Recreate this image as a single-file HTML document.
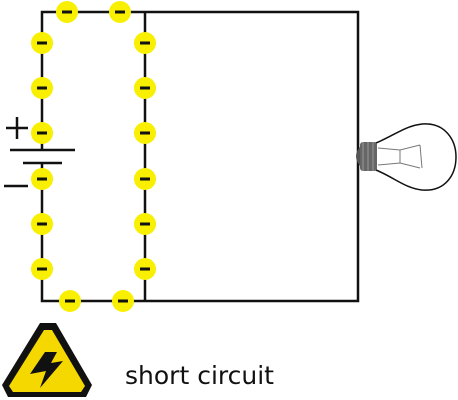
<!DOCTYPE html>
<html><head><meta charset="utf-8"><style>
html,body{margin:0;padding:0;background:#fff;}
svg{display:block;}
</style></head><body>
<svg width="458" height="400" viewBox="0 0 458 400" xmlns="http://www.w3.org/2000/svg">
  <g stroke="#111" stroke-width="2.5" fill="none">
    <path d="M42 150 V12 H358 V301 H42 V163"/>
    <line x1="145" y1="12" x2="145" y2="301"/>
  </g>
  <g stroke="#111" stroke-width="2.5">
    <line x1="10" y1="150" x2="75" y2="150"/>
    <line x1="23" y1="163" x2="62" y2="163"/>
    <line x1="6" y1="128" x2="28" y2="128"/>
    <line x1="17" y1="117" x2="17" y2="139"/>
    <line x1="4" y1="186" x2="28" y2="186"/>
  </g>
  <g id="electrons"></g>
  <g>
    <path d="M376 143 C395 135 405 126 422 124 C445 122 456 140 456 157 C456 175 445 192 422 190 C405 188 395 178 376 170 Z" fill="#fff" stroke="#111" stroke-width="1.5"/>
    <rect x="360" y="142" width="17" height="29" rx="3" fill="#666"/>
    <g stroke="#999" stroke-width="1">
      <line x1="363" y1="142" x2="363" y2="171"/><line x1="368" y1="142" x2="368" y2="171"/><line x1="373" y1="142" x2="373" y2="171"/>
    </g>
    <path d="M360 147 Q352 156 360 166 Z" fill="#555"/>
    <path d="M378 148 L400 150 L420 145 M378 165 L400 163 L420 168 M400 150 L400 163 M420 145 L422 168" stroke="#777" stroke-width="1" fill="none"/>
  </g>
  <g>
    <path d="M40 323 H56 L92 385 L86 397 H8 L2 385 Z" fill="#111"/>
    <path d="M44 330 H52 L85 386 L81 392 H13 L9 386 Z" fill="#f5d800"/>
    <path d="M45 352 L57 352 L51 363 L63 361 L40 388 L46 371 L30 374 Z" fill="#111"/>
  </g>
  <text x="125" y="384" font-family="'DejaVu Sans', 'Liberation Sans', sans-serif" font-size="25" fill="#111">short circuit</text>
</svg>
<script>
const ex = [67,120,42,42,42,42,42,42,145,145,145,145,145,145,70,123];
const ey = [12,12,43,88,133,179,224,269,43,88,133,179,224,269,301,301];
const g = document.getElementById('electrons');
const NS = 'http://www.w3.org/2000/svg';
for (let i = 0; i < ex.length; i++) {
  const c = document.createElementNS(NS, 'circle');
  c.setAttribute('cx', ex[i]); c.setAttribute('cy', ey[i]); c.setAttribute('r', 11);
  c.setAttribute('fill', '#f8f000');
  
  
  g.appendChild(c);
  const m = document.createElementNS(NS, 'rect');
  m.setAttribute('x', ex[i] - 5); m.setAttribute('y', ey[i] - 1.5);
  m.setAttribute('width', 10); m.setAttribute('height', 3); m.setAttribute('fill', '#111');
  
  
  g.appendChild(m);
}
</script>
</body></html>
